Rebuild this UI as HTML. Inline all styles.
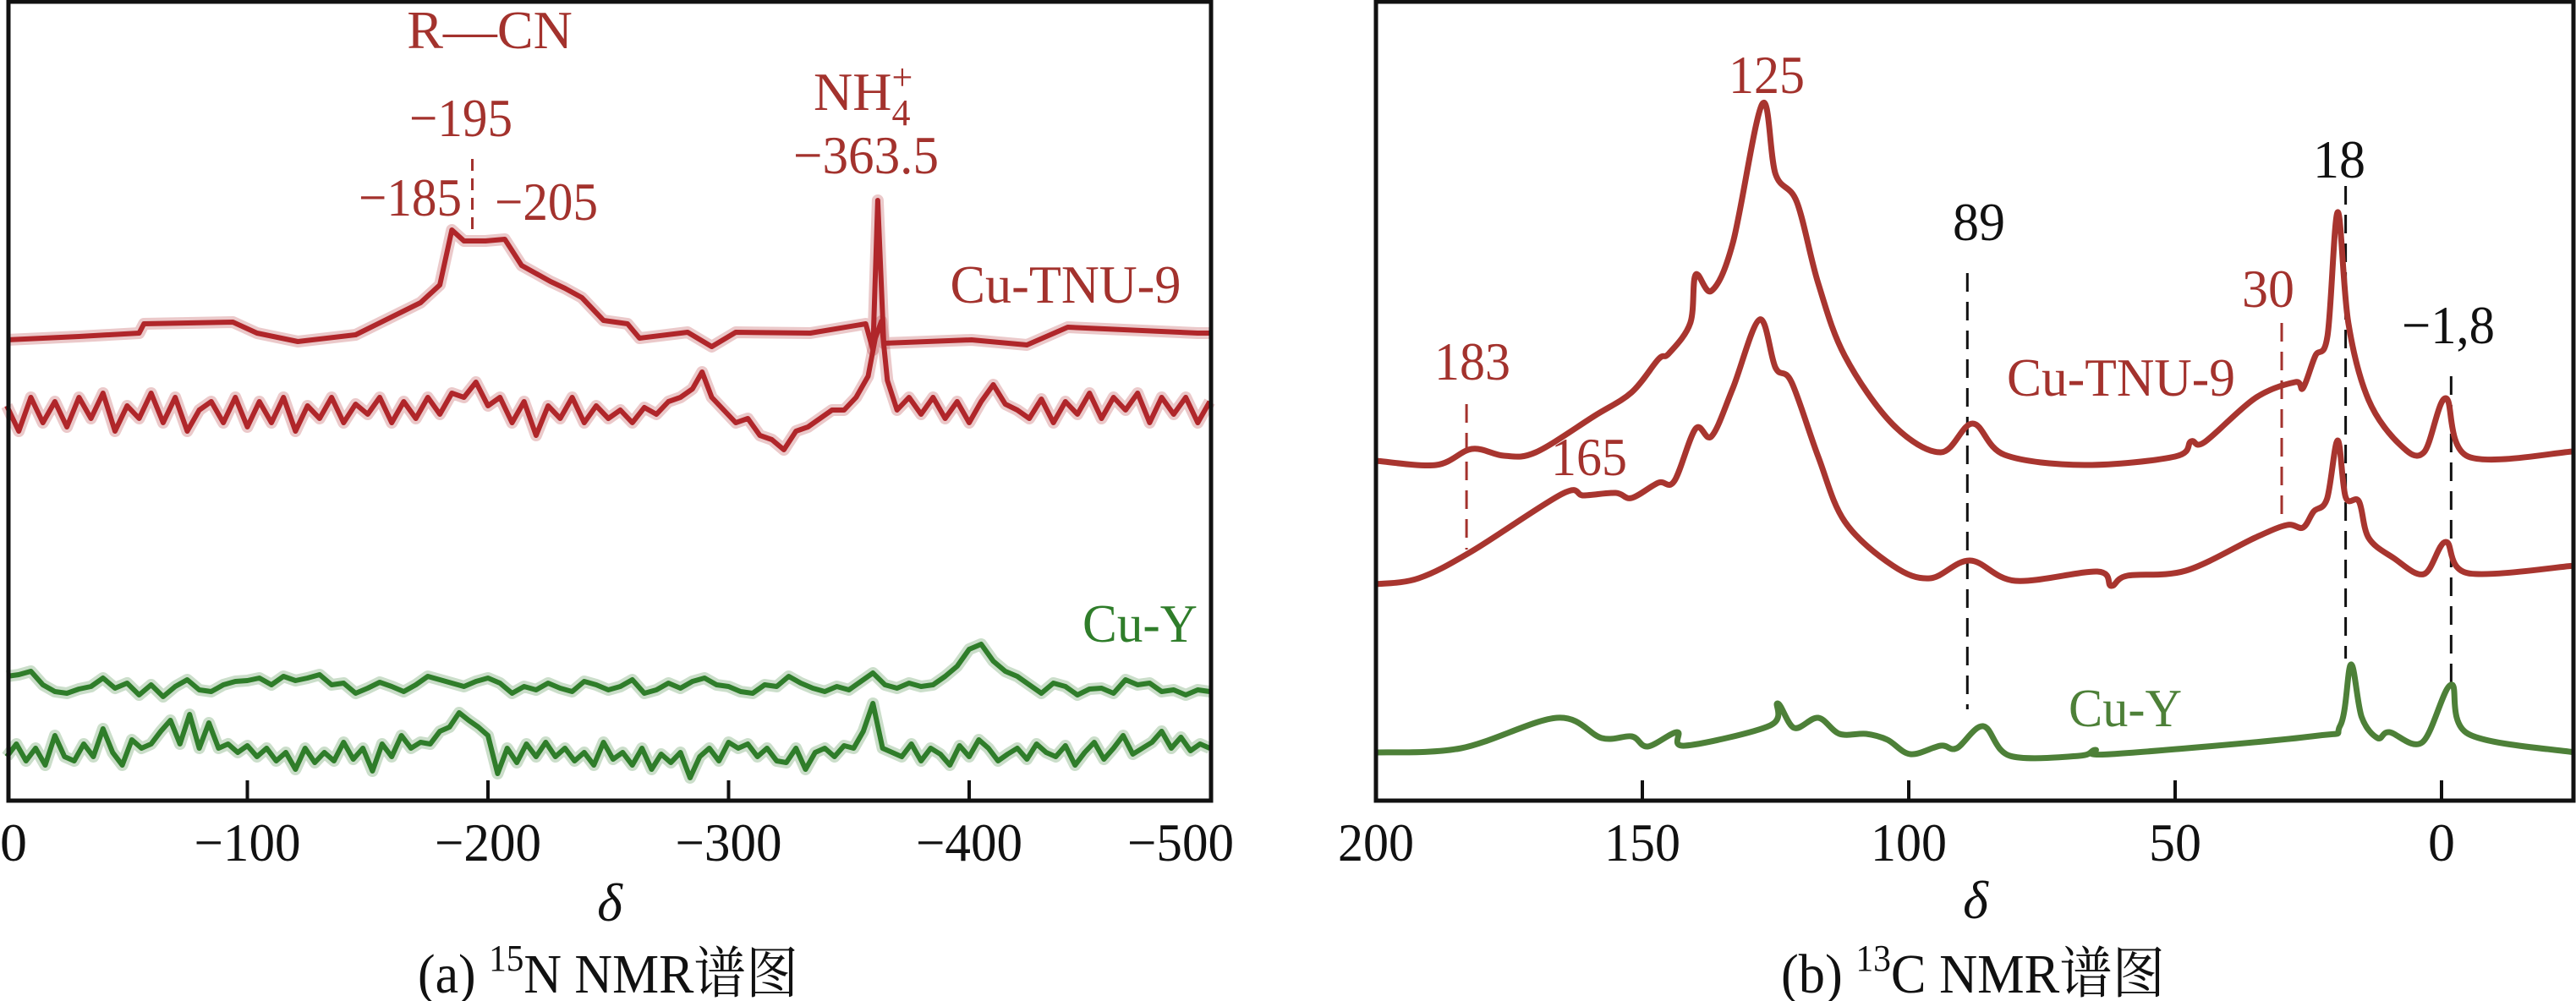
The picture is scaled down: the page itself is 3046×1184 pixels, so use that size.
<!DOCTYPE html>
<html><head><meta charset="utf-8"><style>
html,body{margin:0;padding:0;background:#fff;}
svg{display:block;font-family:"Liberation Serif","Noto Serif CJK SC",serif;}
</style></head><body>
<svg id="chart" width="3046" height="1184" viewBox="0 0 3046 1184" xmlns="http://www.w3.org/2000/svg">
<g id="pa"></g>
<g id="pb"></g>
</svg>
<script>
// ---------- Panel (a) data ----------
const aTicks = [0,-100,-200,-300,-400,-500];
const aRedTopX = [0,-30,-55,-57,-94,-104,-121,-145,-172,-180,-185,-190,-199,-207,-214,-226,-232,-239,-248,-258,-263,-283,-293,-303,-334,-357,-360,-362,-364.5,-401,-424,-441,-495,-500];
const aRedTopY = [538,542,546,557,559,546,536,544,582,603,668,655,655,657,626,607,599,588,561,557,540,547,530,547,546,557,526,703,534,538,532,553,546,546];
const aRedBotX = [0,-5,-10,-15,-20,-25,-30,-35,-40,-45,-50,-55,-60,-65,-70,-75,-80,-85,-90,-95,-100,-105,-110,-115,-120,-125,-130,-135,-140,-145,-150,-155,-160,-165,-170,-175,-180,-185,-190,-195,-200,-205,-210,-215,-220,-225,-230,-235,-240,-245,-250,-255,-260,-265,-270,-275,-280,-285,-289,-293,-298,-303,-308,-313,-318,-323,-328,-333,-338,-343,-348,-353,-358,-361,-363.5,-366,-370,-375,-380,-385,-390,-395,-400,-405,-410,-415,-420,-425,-430,-435,-440,-445,-450,-455,-460,-465,-470,-475,-480,-485,-490,-495,-500];
const aRedBotY = [460,430,470,440,465,435,470,445,475,430,460,445,475,440,470,430,455,465,440,470,435,465,440,470,430,460,445,470,440,462,450,470,440,465,445,470,450,475,470,488,460,470,440,465,425,460,445,470,440,460,445,455,440,458,450,465,470,480,500,470,455,440,445,425,420,408,430,435,445,455,455,470,495,540,560,490,455,470,450,470,445,465,440,465,485,462,455,445,468,440,465,450,475,445,470,455,475,440,470,450,470,440,465];
const aGrnTopY = [140,142,146,130,122,120,125,128,138,126,132,118,130,116,128,136,124,122,130,134,135,138,130,140,135,138,142,130,132,120,126,133,128,122,130,140,136,132,128,134,138,132,120,128,124,132,126,122,134,130,124,128,136,120,124,132,126,134,138,130,128,122,120,130,128,140,132,126,122,128,124,134,144,130,126,132,128,130,140,152,172,178,158,146,140,130,120,132,128,118,125,126,120,136,130,132,122,124,118,124,122];
const aGrnBotY = [45,60,40,55,35,70,45,40,60,45,78,50,35,65,55,60,75,88,60,95,55,85,55,60,50,58,45,55,40,50,30,55,38,50,40,62,42,55,28,60,45,70,55,62,60,75,80,97,88,80,70,25,55,38,60,45,62,45,55,40,50,35,62,42,50,35,55,30,48,38,50,20,45,55,40,62,55,60,45,55,40,38,55,30,50,55,45,58,55,75,108,55,50,45,60,40,55,48,35,58,45,65,55,40,48,55,42,60,50,45,58,35,50,62,42,55,70,48,55,62,75,55,68,52,60,55];
// ---------- Panel (b) data ----------
const bTicks = [200,150,100,50,0];
const bRedTopX = [200,188.7,182,176,170,159,152,147,145,141,140,137,133,127.5,125,121,117,112,103,94,88,82,67,50,47,44.5,35,27.5,26,23.7,21.4,19.5,17.5,13.7,7.8,3.3,-0.8,-5,-24.7];
const bRedTopY = [395,390,409,401,405,448,476,515,522,558,615,596,653,817,734,701,605,519,438,405,439,402,390,400,418,417,469,488,481,519,543,689,558,467,414,405,469,400,406];
const bRedBotX = [200,192,182,165,161,155,152,147,144,140,137,133,128,125,122,117,112,103,96,88.5,80,64.6,62,59,48,35,29,26,24,21.5,19.5,18,15.5,13.7,9,3.3,-0.8,-5,-25];
const bRedBotY = [249,256,288,356,354,357,351,369,371,433,424,481,562,505,488,400,323,271,256,277,253,264,247,259,265,304,319,316,335,350,419,352,347,304,280,261,299,262,271];
const bGrnX = [200,184,166,157.6,152,149,143.5,142,126,124.6,121.5,117,113,108,104,99.7,94,91,86,81,68,65,62,24.4,19,17,15,12,9.8,3.6,-1.8,-5,-25];
const bGrnY = [50,55,91,67,69,57,74,58,82,108,79,91,72,72,65,48,58,55,81,46,46,53,48,69,82,154,92,67,74,62,130,72,50];
const bMarkers = [183,30,89,18,-1.8];

const NS='http://www.w3.org/2000/svg';
function mk(tag, attrs, parent){const e=document.createElementNS(NS,tag);for(const k in attrs)e.setAttribute(k,attrs[k]);parent.appendChild(e);return e;}
function yS(v){return 940-v;}
function xa(d){return 8+(-d)*2.845;}
function xb(d){return 2887-d*6.3;}
function linePath(xs,ys,fx){return xs.map((d,i)=>(i?'L':'M')+fx(d).toFixed(1)+','+yS(ys[i]).toFixed(1)).join('');}
function smoothPath(xs,ys,fx){
  const p=xs.map((d,i)=>[fx(d),yS(ys[i])]);let s='M'+p[0][0]+','+p[0][1];
  for(let i=0;i<p.length-1;i++){const p0=p[i-1]||p[i],p1=p[i],p2=p[i+1],p3=p[i+2]||p2;
    const c1=[p1[0]+(p2[0]-p0[0])/6,p1[1]+(p2[1]-p0[1])/6],c2=[p2[0]-(p3[0]-p1[0])/6,p2[1]-(p3[1]-p1[1])/6];
    s+='C'+c1[0].toFixed(1)+','+c1[1].toFixed(1)+' '+c2[0].toFixed(1)+','+c2[1].toFixed(1)+' '+p2[0].toFixed(1)+','+p2[1].toFixed(1);}
  return s;}
function txt(parent,x,y,str,size,fill,len,anchor){const t=mk('text',{x:x,y:y,'font-size':size,fill:fill,'text-anchor':anchor||'middle'},parent);if(len){t.setAttribute('textLength',len);t.setAttribute('lengthAdjust','spacingAndGlyphs');}t.textContent=str;return t;}

const pa=document.getElementById('pa'), pb=document.getElementById('pb');
const RED_A='#b0262a', GRN_A='#2f7d2a', RED_B='#a8352f', GRN_B='#4d8038', LBL='#a3322d';

// ---- panel a traces
const stepX5 = aRedBotX.map((d,i)=>-i*5);
const stepX4 = aGrnBotY.map((d,i)=>-i*4);
[[aRedTopX,aRedTopY,RED_A,'trace-a-cu-tnu9-top'],[aRedBotX,aRedBotY,RED_A,'trace-a-cu-tnu9-bottom'],[stepX5,aGrnTopY,GRN_A,'trace-a-cu-y-top'],[stepX4,aGrnBotY,GRN_A,'trace-a-cu-y-bottom']].forEach(s=>{
  const d=linePath(s[0],s[1],xa);
  const h=mk('path',{d:d,fill:'none',stroke:s[2],'stroke-opacity':0.25,'stroke-width':14,'stroke-linejoin':'round'},pa);
  
  
  const e=mk('path',{d:d,fill:'none',stroke:s[2],'stroke-width':6,'stroke-linejoin':'round'},pa);
  
  
});
// axes a
const fa=mk('path',{d:'M10,2V947H1432V2Z',fill:'none',stroke:'#111','stroke-width':5},pa);


aTicks.forEach(t=>{
  if(t!==0&&t!==-500){const tk=mk('line',{x1:xa(t),x2:xa(t),y1:947,y2:923,stroke:'#111','stroke-width':4},pa);
  
  }
  const lb=txt(pa,t===0?16:(t===-500?1396:xa(t)),1018,t===0?'0':'\u2212'+(-t),64,'#111',t===0?null:126);
  
  
});
const da=mk('line',{x1:xa(-193.5),x2:xa(-193.5),y1:188,y2:276,stroke:LBL,'stroke-width':3,'stroke-dasharray':'14,9'},pa);


[[579,57,'R\u2014CN',null,'r-cn-label'],[545,161,'\u2212195',122,'peak-195-label'],[485,255,'\u2212185',122,'peak-185-label'],[646,260,'\u2212205',122,'peak-205-label'],[1024,205,'\u2212363.5',172,'peak-363-label'],[1260,358,'Cu-TNU-9',273,'label-cu-tnu9-a']].forEach(l=>{
  const t=txt(pa,l[0],l[1],l[2],64,LBL,l[3]);
  
  
});
const nh=mk('text',{x:962,y:130,'font-size':64,fill:LBL},pa);


nh.innerHTML='NH<tspan font-size="44" dy="18">4</tspan><tspan font-size="44" dy="-42" dx="-22">+</tspan>';
const cya=txt(pa,1348,759,'Cu-Y',64,GRN_A,136);


const dla=mk('text',{x:721,y:1089,'font-size':64,'font-style':'italic','text-anchor':'middle',fill:'#111'},pa);
dla.textContent='\u03b4';


const ca=mk('text',{x:494,y:1174,'font-size':66,fill:'#111',textLength:450,lengthAdjust:'spacingAndGlyphs'},pa);
ca.innerHTML='(a) <tspan font-size="44" dy="-26">15</tspan><tspan dy="26">N NMR谱图</tspan>';



// ---- panel b
const markerStyle={183:[478,650,LBL],30:[382,617,LBL],89:[323,839,'#111'],18:[220,779,'#111'],'-1.8':[445,807,'#111']};
bMarkers.forEach(m=>{const s=markerStyle[m];
  const l=mk('line',{x1:xb(m),x2:xb(m),y1:s[0],y2:s[1],stroke:s[2],'stroke-width':3,'stroke-dasharray':'22,12'},pb);
  
  
});
[[bRedTopX,bRedTopY,RED_B,'trace-b-cu-tnu9-top'],[bRedBotX,bRedBotY,RED_B,'trace-b-cu-tnu9-bottom'],[bGrnX,bGrnY,GRN_B,'trace-b-cu-y']].forEach(s=>{
  const e=mk('path',{d:smoothPath(s[0],s[1],xb),fill:'none',stroke:s[2],'stroke-width':7,'stroke-linejoin':'round'},pb);
  
  
});
const fb=mk('path',{d:'M1627,2V947H3043V2Z',fill:'none',stroke:'#111','stroke-width':5},pb);


bTicks.forEach(t=>{
  if(t!==200){const tk=mk('line',{x1:xb(t),x2:xb(t),y1:947,y2:923,stroke:'#111','stroke-width':4},pb);
  
  }
  const lb=txt(pb,xb(t),1018,String(t),64,'#111',t===0?null:(t===50?62:90));
  
  
});
[[2089,110,'125',LBL,90,'peak-125-label'],[2340,284,'89','#111',62,'peak-89-label'],[2766,210,'18','#111',62,'peak-18-label'],[2682,363,'30',LBL,62,'peak-30-label'],[2895,406,'\u22121,8','#111',110,'peak-neg1-8-label'],[1741,449,'183',LBL,90,'peak-183-label'],[1879,562,'165',LBL,90,'peak-165-label'],[2508,468,'Cu-TNU-9',LBL,270,'label-cu-tnu9-b'],[2513,859,'Cu-Y',GRN_B,134,'label-cu-y-b']].forEach(l=>{
  const t=txt(pb,l[0],l[1],l[2],64,l[3],l[4]);
  
  
});
const dlb=mk('text',{x:2336,y:1086,'font-size':64,'font-style':'italic','text-anchor':'middle',fill:'#111'},pb);
dlb.textContent='\u03b4';


const cb=mk('text',{x:2106,y:1174,'font-size':66,fill:'#111',textLength:454,lengthAdjust:'spacingAndGlyphs'},pb);
cb.innerHTML='(b) <tspan font-size="44" dy="-26">13</tspan><tspan dy="26">C NMR谱图</tspan>';


</script>
</body></html>
